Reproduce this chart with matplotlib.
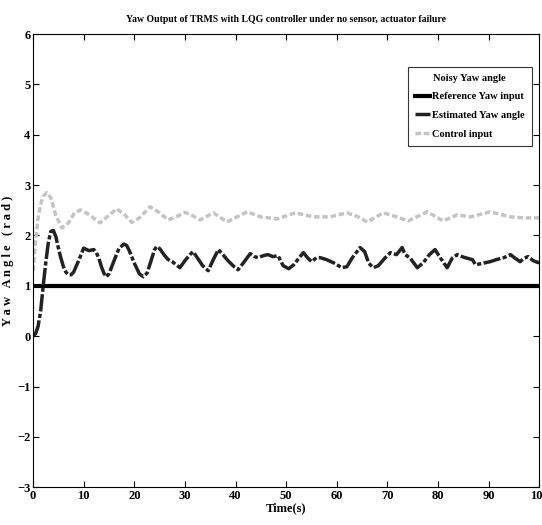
import matplotlib.pyplot as plt
import numpy as np

plt.rcParams['font.family'] = ['Liberation Serif', 'DejaVu Serif']
plt.rcParams['font.weight'] = 'bold'

# time axis and reference
ref_t = [0, 100]
ref_y = [1, 1]

# estimated yaw angle
est_t = [0, 0.5, 1, 1.5, 2, 2.5, 3, 3.5, 4, 4.5, 5, 5.5, 6, 6.5, 7, 7.5, 8, 9, 10, 11,
         12, 12.5, 13, 13.5, 14, 14.5, 15, 16, 17, 18, 18.5, 19, 20, 21, 21.8, 22.5, 23,
         24, 24.4, 25, 26, 26.7, 27.5, 28, 29, 30, 31, 31.6, 32.5, 33.5, 34.6, 35.5,
         36.6, 37.5, 38.5, 39.5, 40.5, 41.5, 42.9, 43.7, 44.5, 45.5, 46.4, 47.4, 48.4,
         49.4, 50.5, 51.5, 52.5, 53.4, 54.2, 55, 56, 56.7, 58, 59.5, 61, 62, 63, 64.6,
         65.5, 66.3, 67.2, 68.2, 69.5, 70.6, 71.8, 72.9, 73.5, 74.5, 75.9, 77, 78.3,
         79.4, 80.5, 81.8, 82.8, 83.8, 85, 86.8, 87.4, 88.5, 90.3, 91.5, 93, 94.3,
         95.2, 96.2, 97, 97.8, 98.8, 99.8, 100]
est_y = [0.0, 0.05, 0.2, 0.5, 1.0, 1.45, 1.85, 2.08, 2.1, 1.98, 1.75, 1.55, 1.38, 1.27,
         1.22, 1.22, 1.27, 1.5, 1.75, 1.70, 1.72, 1.66, 1.55, 1.38, 1.25, 1.18, 1.24,
         1.5, 1.75, 1.83, 1.8, 1.7, 1.45, 1.24, 1.18, 1.25, 1.4, 1.72, 1.78, 1.74, 1.6,
         1.52, 1.48, 1.44, 1.36, 1.5, 1.62, 1.68, 1.55, 1.4, 1.3, 1.5, 1.72, 1.62, 1.5,
         1.4, 1.32, 1.45, 1.64, 1.58, 1.56, 1.6, 1.62, 1.58, 1.6, 1.4, 1.34, 1.42, 1.55,
         1.66, 1.56, 1.48, 1.56, 1.56, 1.52, 1.45, 1.36, 1.38, 1.55, 1.76, 1.68, 1.45,
         1.36, 1.4, 1.55, 1.66, 1.62, 1.76, 1.62, 1.55, 1.36, 1.45, 1.62, 1.72, 1.55,
         1.36, 1.55, 1.62, 1.57, 1.52, 1.42, 1.44, 1.48, 1.52, 1.56, 1.62, 1.55, 1.48,
         1.55, 1.58, 1.5, 1.46, 1.48]

# control input
ctl_t = [0, 0.5, 1, 1.5, 2, 2.7, 3.5, 4.5, 5.7, 7, 8, 9.3, 11, 13.2, 15, 16.5, 18, 19.5,
         21, 23.1, 25, 26.7, 28.5, 30, 31, 33, 35.6, 38.3, 40.5, 42.3, 44.9, 48.2, 51.8,
         55.3, 58.7, 62, 64, 66, 69.2, 71.5, 74.1, 77.9, 81, 83.8, 86.4, 90.3, 94.3, 97, 100]
ctl_y = [1.3, 1.9, 2.35, 2.62, 2.78, 2.85, 2.75, 2.4, 2.15, 2.25, 2.42, 2.51, 2.42, 2.25,
         2.4, 2.53, 2.42, 2.26, 2.35, 2.57, 2.45, 2.31, 2.38, 2.46, 2.42, 2.31, 2.45, 2.27,
         2.38, 2.47, 2.37, 2.33, 2.45, 2.37, 2.37, 2.45, 2.38, 2.27, 2.45, 2.38, 2.29, 2.47,
         2.29, 2.41, 2.37, 2.47, 2.37, 2.35, 2.35]

fig = plt.figure(figsize=(5.42, 5.25), dpi=100)
ax = fig.add_axes([0.061, 0.072, 0.934, 0.863])

ax.plot(ref_t, ref_y, color='black', lw=3, label='Reference Yaw input')
ax.plot(est_t, est_y, color='#222222', lw=2.5, dashes=(5, 0.7, 1.2, 0.7),
        label='Estimated Yaw angle')
ax.plot(ctl_t, ctl_y, color='#c4c4c4', lw=2.5, dashes=(1.6, 0.8),
        label='Control input')

ax.set_xlim(0, 100)
ax.set_ylim(-3, 6)
ax.set_xticks(np.arange(0, 101, 10))
ax.set_yticks(np.arange(-3, 7, 1))
ax.tick_params(direction='in', top=True, right=True, labelsize=9, length=4, pad=2)

ax.set_title('Yaw Output of TRMS with LQG controller under no sensor, actuator failure',
             fontsize=7, fontweight='bold', pad=9)
ax.set_xlabel('Time(s)', fontsize=9, fontweight='bold', labelpad=0)
ax.set_ylabel('Y a w   A n g l e   ( r a d )', fontsize=9, fontweight='bold', labelpad=2)

leg = ax.legend(title='Noisy Yaw angle', loc='upper right', bbox_to_anchor=(0.995, 0.94),
                fontsize=7.5, title_fontsize=7.5, fancybox=False, edgecolor='black',
                handlelength=1.4, handletextpad=0.2, borderpad=0.7, labelspacing=0.9)
leg.get_title().set_fontweight('bold')
leg.get_frame().set_linewidth(0.8)

fig.savefig('out.png', dpi=100)
